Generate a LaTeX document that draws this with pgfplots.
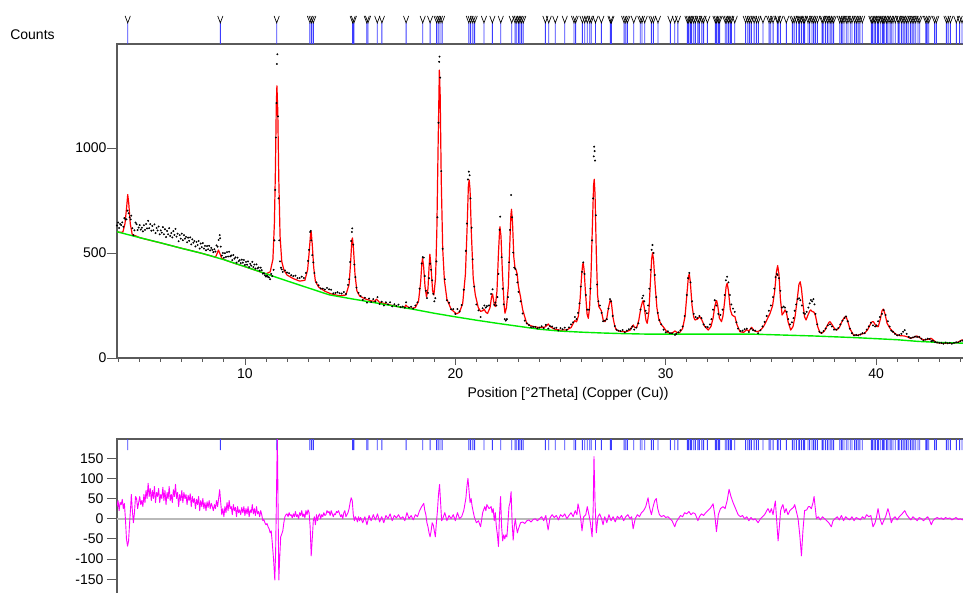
\documentclass[border=0pt]{standalone}
\usepackage{pgfplots}
\usepackage{pgfplotstable}
\pgfplotsset{compat=1.18}
\usepackage{fontspec}
\setmainfont{Liberation Sans}
\definecolor{axgray}{RGB}{90,90,90}
\definecolor{calcred}{RGB}{255,0,0}
\definecolor{bggreen}{RGB}{0,235,0}
\definecolor{diffmag}{RGB}{255,0,255}
\definecolor{refblue}{RGB}{60,60,255}
\pgfdeclareplotmark{vee}{%
  \pgfpathmoveto{\pgfpoint{-2.6pt}{7pt}}%
  \pgfpathlineto{\pgfpoint{0pt}{0pt}}%
  \pgfpathlineto{\pgfpoint{2.6pt}{7pt}}%
  \pgfusepathqstroke}
\pgfplotstableread[row sep=\\]{t h\\
4.43 1\\ 8.83 1\\ 11.51 1\\ 13.09 1\\ 13.17 1\\ 13.25 1\\ 15.12 1\\ 15.18 1\\ 15.79 1\\ 15.85 1\\ 16.29 1\\ 16.51 1\\ 17.66 1\\ 18.45 1\\ 18.80 1\\ 19.11 1\\ 19.19 1\\ 19.27 1\\ 19.37 1\\ 20.64 1\\ 20.73 1\\ 20.83 1\\ 20.92 1\\ 21.36 1\\ 21.76 1\\ 22.16 1\\ 22.68 1\\ 22.84 1\\ 22.92 1\\ 23.00 1\\ 23.07 1\\ 23.15 1\\ 23.23 1\\ 24.28 1\\ 24.44 1\\ 24.75 1\\ 25.20 1\\ 25.64 1\\ 25.72 1\\ 26.04 1\\ 26.15 1\\ 26.27 1\\ 26.39 1\\ 26.46 1\\ 26.66 1\\ 26.94 1\\ 27.37 1\\ 27.42 1\\ 28.02 1\\ 28.10 1\\ 28.18 1\\ 28.48 1\\ 28.79 1\\ 28.87 1\\ 29.00 1\\ 29.32 1\\ 29.41 1\\ 29.63 1\\ 30.22 1\\ 30.43 1\\ 30.58 1\\ 31.03 1\\ 31.09 1\\ 31.17 1\\ 31.23 1\\ 31.33 1\\ 31.41 1\\ 31.53 1\\ 31.60 1\\ 31.72 1\\ 31.80 1\\ 31.98 1\\ 32.36 1\\ 32.42 1\\ 32.50 1\\ 32.56 1\\ 32.83 1\\ 32.90 1\\ 32.98 1\\ 33.06 1\\ 33.12 1\\ 33.28 1\\ 33.80 1\\ 33.90 1\\ 33.99 1\\ 34.07 1\\ 34.20 1\\ 34.31 1\\ 34.40 1\\ 34.62 1\\ 34.91 1\\ 34.99 1\\ 35.10 1\\ 35.30 1\\ 35.34 1\\ 35.45 1\\ 35.73 1\\ 36.02 1\\ 36.10 1\\ 36.21 1\\ 36.32 1\\ 36.37 1\\ 36.45 1\\ 36.54 1\\ 36.60 1\\ 36.76 1\\ 36.84 1\\ 36.95 1\\ 37.03 1\\ 37.11 1\\ 37.21 1\\ 37.43 1\\ 37.48 1\\ 37.59 1\\ 37.68 1\\ 37.76 1\\ 37.84 1\\ 37.90 1\\ 37.98 1\\ 38.27 1\\ 38.35 1\\ 38.38 1\\ 38.47 1\\ 38.58 1\\ 38.66 1\\ 38.77 1\\ 38.85 1\\ 38.98 1\\ 39.06 1\\ 39.14 1\\ 39.23 1\\ 39.34 1\\ 39.77 1\\ 39.82 1\\ 39.90 1\\ 39.96 1\\ 40.06 1\\ 40.12 1\\ 40.22 1\\ 40.30 1\\ 40.34 1\\ 40.41 1\\ 40.49 1\\ 40.56 1\\ 40.66 1\\ 40.72 1\\ 40.80 1\\ 40.91 1\\ 41.04 1\\ 41.09 1\\ 41.20 1\\ 41.28 1\\ 41.36 1\\ 41.44 1\\ 41.52 1\\ 41.63 1\\ 41.71 1\\ 41.79 1\\ 41.88 1\\ 41.99 1\\ 42.07 1\\ 42.36 1\\ 42.42 1\\ 42.50 1\\ 42.78 1\\ 42.86 1\\ 43.34 1\\ 43.42 1\\ 43.53 1\\ 43.81 1\\ 43.97 1\\ 44.08 1\\
}\refl
\begin{document}
\begin{tikzpicture}
\useasboundingbox (0pt,0pt) rectangle (963pt,592pt);
\clip (0pt,0pt) rectangle (963pt,592pt);
\pgfplotsset{
  common/.style={
    scale only axis, anchor=south west, width=902pt,
    xmin=3.92, xmax=46.79,
    axis line style={axgray, line width=1.1pt},
    tick style={axgray, line width=0.8pt},
    tick align=outside,
    tick label style={font=\fontsize{14}{16}\selectfont, text=black},
  },
  reflbars/.style={ybar, bar width=0.9pt, bar shift=0pt, fill=refblue, draw=none},
}
% ---------- main pattern axis ----------
\begin{axis}[common,
  at={(117pt,234pt)}, height=314pt,
  ymin=0, ymax=1495,
  xtick={10,20,30,40}, xticklabels={10,20,30,40},
  minor xtick={4,5,...,46},
  ytick={0,500,1000}, yticklabels={0,500,1000},
  xtick pos=bottom, ytick pos=left,
  major tick length=7pt, minor tick length=3.5pt,
  ytick style={/pgfplots/major tick length=10pt},
  xlabel={Position [°2Theta] (Copper (Cu))},
  ylabel={Counts},
  every axis x label/.style={at={(axis description cs:0.5,0)}, anchor=center, yshift=-36pt, font=\fontsize{14}{16}\selectfont},
  every axis y label/.style={at={(axis description cs:0,1)}, anchor=center, xshift=-84.5pt, yshift=9pt, font=\fontsize{14}{16}\selectfont},
]
% observed
\addplot[only marks, mark=*, mark size=0.75pt, black] coordinates {
(3.92,631) (3.97,645) (4.02,619) (4.07,638) (4.12,633) (4.17,646) (4.22,625) (4.27,666) (4.32,660) (4.37,660) (4.42,702) (4.47,689) (4.52,670) (4.57,660) (4.6,678) (4.65,618) (4.7,585) (4.75,608) (4.8,645) (4.85,637) (4.9,609) (4.95,621) (5.0,633) (5.05,611) (5.1,620) (5.15,603) (5.2,632) (5.25,610) (5.3,638) (5.35,617) (5.4,653) (5.45,618) (5.5,637) (5.55,606) (5.6,629) (5.65,608) (5.7,636) (5.75,595) (5.8,619) (5.85,607) (5.9,626) (5.95,589) (6.0,608) (6.05,597) (6.1,623) (6.15,589) (6.2,613) (6.25,576) (6.3,605) (6.35,589) (6.4,618) (6.45,581) (6.5,595) (6.55,574) (6.6,604) (6.65,586) (6.7,615) (6.75,578) (6.8,592) (6.85,556) (6.9,585) (6.95,568) (7.0,592) (7.05,561) (7.1,585) (7.15,568) (7.2,577) (7.25,551) (7.3,573) (7.35,558) (7.4,574) (7.45,541) (7.5,565) (7.55,549) (7.6,557) (7.65,531) (7.7,553) (7.75,538) (7.8,557) (7.85,521) (7.9,545) (7.95,528) (8.0,547) (8.05,521) (8.1,534) (8.15,513) (8.2,533) (8.25,518) (8.3,534) (8.35,512) (8.4,524) (8.45,515) (8.5,504) (8.55,518) (8.6,507) (8.65,536) (8.7,530) (8.75,562) (8.8,585) (8.82,570) (8.85,530) (8.9,488) (8.95,500) (9.0,477) (9.05,499) (9.1,481) (9.15,504) (9.2,483) (9.25,506) (9.3,484) (9.35,488) (9.4,466) (9.45,490) (9.5,473) (9.55,479) (9.6,454) (9.65,478) (9.7,461) (9.75,466) (9.8,452) (9.85,468) (9.9,454) (9.95,467) (10.0,443) (10.05,458) (10.1,444) (10.15,460) (10.2,433) (10.25,448) (10.3,440) (10.35,458) (10.4,433) (10.45,445) (10.5,426) (10.55,446) (10.6,427) (10.65,431) (10.7,416) (10.75,430) (10.8,418) (10.85,402) (10.9,403) (10.95,394) (11.0,388) (11.05,392) (11.1,386) (11.15,383) (11.2,375) (11.25,400) (11.3,390) (11.36,420) (11.4,560) (11.44,800) (11.47,1050) (11.5,1214) (11.52,1400) (11.54,1446) (11.57,1150) (11.6,760) (11.63,560) (11.67,460) (11.71,430) (11.75,422) (11.8,410) (11.9,417) (12.0,407) (12.1,404) (12.2,394) (12.3,390) (12.4,392) (12.5,380) (12.6,381) (12.7,387) (12.8,381) (12.9,405) (13.0,462) (13.05,515) (13.1,600) (13.13,605) (13.15,560) (13.2,490) (13.25,455) (13.3,405) (13.4,360) (13.5,346) (13.6,331) (13.7,330) (13.8,326) (13.9,334) (14.0,327) (14.1,325) (14.2,308) (14.3,310) (14.4,313) (14.5,308) (14.6,307) (14.7,314) (14.8,305) (14.9,348) (14.95,375) (15.0,457) (15.05,557) (15.08,600) (15.1,617) (15.15,540) (15.2,445) (15.25,385) (15.3,335) (15.4,310) (15.5,295) (15.6,277) (15.7,287) (15.8,264) (15.9,283) (16.0,267) (16.1,280) (16.2,269) (16.3,290) (16.4,257) (16.5,268) (16.6,250) (16.7,265) (16.8,255) (16.9,265) (17.0,246) (17.1,256) (17.2,248) (17.3,254) (17.4,242) (17.5,245) (17.6,239) (17.66,265) (17.8,240) (17.9,244) (18.0,235) (18.1,250) (18.2,265) (18.3,330) (18.4,450) (18.45,480) (18.5,478) (18.55,390) (18.6,320) (18.65,285) (18.7,310) (18.75,380) (18.8,449) (18.85,420) (18.9,370) (18.95,305) (19.0,270) (19.05,285) (19.1,460) (19.15,670) (19.2,1120) (19.23,1410) (19.25,1435) (19.28,1335) (19.33,890) (19.4,520) (19.5,375) (19.6,275) (19.7,263) (19.8,232) (19.9,233) (20.0,210) (20.1,233) (20.2,222) (20.3,252) (20.4,325) (20.5,510) (20.55,640) (20.6,850) (20.64,887) (20.68,870) (20.72,760) (20.77,620) (20.82,470) (20.9,340) (21.0,255) (21.1,227) (21.2,195) (21.3,237) (21.38,250) (21.45,240) (21.5,247) (21.6,250) (21.7,305) (21.77,327) (21.85,253) (21.9,264) (21.95,250) (22.0,290) (22.05,400) (22.1,610) (22.13,673) (22.2,480) (22.25,330) (22.3,255) (22.35,185) (22.4,178) (22.45,185) (22.5,290) (22.55,455) (22.6,610) (22.65,776) (22.7,670) (22.75,502) (22.8,430) (22.85,424) (22.9,397) (22.95,360) (23.0,315) (23.1,270) (23.2,212) (23.3,178) (23.4,165) (23.5,157) (23.6,147) (23.7,148) (23.8,148) (23.9,141) (24.0,145) (24.1,151) (24.2,142) (24.3,158) (24.42,140) (24.5,152) (24.6,150) (24.7,141) (24.8,144) (24.9,131) (25.0,142) (25.1,137) (25.2,145) (25.3,134) (25.4,146) (25.5,160) (25.6,170) (25.68,195) (25.76,185) (25.83,215) (25.9,260) (25.96,340) (26.02,410) (26.08,455) (26.14,400) (26.2,300) (26.27,230) (26.35,230) (26.42,330) (26.5,560) (26.55,760) (26.58,960) (26.6,1006) (26.62,985) (26.64,940) (26.68,680) (26.74,350) (26.8,270) (26.87,250) (26.95,215) (27.02,175) (27.11,178) (27.2,185) (27.28,235) (27.35,280) (27.4,270) (27.48,200) (27.58,152) (27.66,135) (27.75,130) (27.85,128) (27.95,133) (28.05,122) (28.15,130) (28.25,137) (28.35,140) (28.42,150) (28.5,135) (28.6,145) (28.7,165) (28.8,230) (28.88,285) (28.93,297) (28.98,270) (29.04,225) (29.1,213) (29.16,250) (29.22,330) (29.28,420) (29.33,515) (29.37,538) (29.42,500) (29.48,395) (29.55,290) (29.62,215) (29.7,180) (29.79,160) (29.9,135) (30.0,122) (30.1,127) (30.2,118) (30.3,117) (30.44,110) (30.5,115) (30.6,122) (30.7,132) (30.8,150) (30.9,200) (31.0,300) (31.06,380) (31.12,405) (31.18,360) (31.25,270) (31.33,210) (31.42,195) (31.5,190) (31.6,200) (31.7,190) (31.8,160) (31.9,148) (32.0,147) (32.1,160) (32.17,185) (32.25,230) (32.33,275) (32.41,250) (32.5,210) (32.6,205) (32.7,230) (32.8,300) (32.86,370) (32.92,387) (32.98,360) (33.05,300) (33.12,255) (33.2,235) (33.28,220) (33.36,170) (33.44,140) (33.55,128) (33.65,130) (33.75,137) (33.85,140) (33.95,124) (34.05,140) (34.15,133) (34.25,130) (34.39,118) (34.5,132) (34.6,150) (34.7,172) (34.8,200) (34.9,225) (35.0,250) (35.1,290) (35.16,330) (35.22,385) (35.28,400) (35.32,395) (35.38,380) (35.45,320) (35.52,240) (35.6,245) (35.67,240) (35.75,220) (35.82,185) (35.9,160) (36.0,170) (36.07,190) (36.13,225) (36.2,255) (36.27,280) (36.34,284) (36.4,275) (36.47,250) (36.55,215) (36.62,210) (36.7,220) (36.78,240) (36.84,260) (36.9,276) (36.96,270) (37.02,280) (37.07,255) (37.12,210) (37.2,160) (37.3,125) (37.4,120) (37.5,128) (37.6,140) (37.7,155) (37.81,160) (37.9,150) (38.0,135) (38.1,135) (38.2,142) (38.3,160) (38.4,178) (38.5,190) (38.57,198) (38.65,175) (38.75,140) (38.85,118) (38.95,108) (39.05,110) (39.15,108) (39.25,112) (39.35,118) (39.45,118) (39.55,135) (39.65,150) (39.75,168) (39.85,155) (39.95,150) (40.02,155) (40.09,175) (40.18,195) (40.28,210) (40.36,228) (40.45,205) (40.56,175) (40.64,150) (40.72,130) (40.8,125) (40.9,115) (41.0,108) (41.1,110) (41.2,115) (41.28,125) (41.36,133) (41.45,115) (41.55,100) (41.65,95) (41.75,98) (41.85,102) (41.95,100) (42.05,100) (42.15,92) (42.25,84) (42.35,88) (42.45,92) (42.55,90) (42.62,80) (42.7,82) (42.8,76) (42.9,74) (43.0,72) (43.1,72) (43.2,68) (43.3,73) (43.4,70) (43.5,72) (43.6,68) (43.7,72) (43.8,75) (43.9,74) (44.0,80) (44.1,83) (44.2,86) (44.3,78) (44.5,78)};
% calculated
\addplot[calcred, line width=1.2pt, line join=round] coordinates {
(3.92,601) (4.1,598) (4.2,600) (4.3,640) (4.38,720) (4.43,778) (4.48,735) (4.55,640) (4.65,585) (4.8,582) (5.0,573) (5.5,560) (6.0,548) (6.5,535) (7.0,522) (7.5,510) (8.0,497) (8.4,486) (8.6,480) (8.68,498) (8.74,514) (8.8,500) (8.9,474) (9.1,465) (9.5,451) (10.0,435) (10.5,418) (10.8,408) (11.0,401) (11.2,410) (11.33,470) (11.4,640) (11.45,900) (11.49,1200) (11.52,1296) (11.56,1180) (11.61,850) (11.67,580) (11.75,460) (11.85,420) (12.0,395) (12.3,378) (12.6,366) (12.85,370) (12.98,420) (13.05,500) (13.12,590) (13.15,601) (13.2,540) (13.27,430) (13.35,365) (13.5,338) (13.8,318) (14.1,305) (14.5,296) (14.8,300) (14.95,350) (15.02,450) (15.08,560) (15.11,572) (15.16,520) (15.23,400) (15.32,320) (15.45,295) (15.7,282) (16.0,272) (16.15,270) (16.26,280) (16.38,266) (16.8,255) (17.2,246) (17.5,240) (17.6,244) (17.65,252) (17.72,244) (17.9,236) (18.1,240) (18.25,270) (18.35,360) (18.41,450) (18.44,475) (18.49,440) (18.56,340) (18.63,290) (18.7,330) (18.75,430) (18.79,494) (18.84,440) (18.92,320) (18.98,300) (19.06,380) (19.12,600) (19.18,1000) (19.24,1371) (19.28,1250) (19.33,850) (19.4,520) (19.48,370) (19.6,280) (19.8,232) (20.06,210) (20.2,218) (20.35,260) (20.48,400) (20.56,620) (20.62,820) (20.66,848) (20.7,800) (20.76,600) (20.85,380) (20.95,300) (21.09,240) (21.2,222) (21.3,225) (21.37,232) (21.45,218) (21.53,212) (21.65,240) (21.72,290) (21.77,305) (21.84,260) (21.9,245) (21.98,320) (22.05,500) (22.1,600) (22.12,625) (22.17,580) (22.24,400) (22.32,250) (22.36,213) (22.43,240) (22.52,340) (22.58,520) (22.64,680) (22.67,708) (22.72,640) (22.78,480) (22.84,425) (22.88,422) (22.94,400) (23.0,340) (23.1,290) (23.2,230) (23.39,165) (23.55,155) (23.7,150) (24.0,145) (24.25,147) (24.35,155) (24.42,162) (24.5,150) (24.7,138) (25.0,132) (25.3,134) (25.5,145) (25.6,165) (25.68,178) (25.76,172) (25.85,200) (25.93,280) (26.0,390) (26.05,445) (26.08,451) (26.12,420) (26.18,320) (26.26,210) (26.32,189) (26.38,240) (26.45,400) (26.52,650) (26.57,820) (26.6,851) (26.64,780) (26.7,500) (26.76,300) (26.82,245) (26.87,237) (26.94,225) (27.03,180) (27.11,173) (27.2,190) (27.28,240) (27.35,272) (27.38,276) (27.42,260) (27.5,190) (27.58,150) (27.66,133) (27.85,127) (28.1,125) (28.3,132) (28.4,150) (28.46,157) (28.52,145) (28.62,145) (28.72,180) (28.82,240) (28.9,270) (28.93,273) (28.98,240) (29.06,180) (29.12,165) (29.2,220) (29.27,360) (29.33,470) (29.37,501) (29.42,470) (29.5,340) (29.58,240) (29.67,185) (29.78,160) (29.88,149) (30.05,125) (30.2,117) (30.35,122) (30.44,129) (30.52,122) (30.65,120) (30.8,140) (30.92,200) (31.02,320) (31.08,390) (31.12,400) (31.17,360) (31.25,250) (31.33,195) (31.39,181) (31.5,185) (31.62,197) (31.72,180) (31.85,150) (32.02,133) (32.15,150) (32.25,190) (32.33,245) (32.39,270) (32.42,273) (32.47,250) (32.55,190) (32.65,173) (32.72,200) (32.8,270) (32.87,340) (32.92,356) (32.98,320) (33.07,230) (33.15,205) (33.22,200) (33.29,197) (33.38,160) (33.53,125) (33.7,122) (33.85,135) (33.95,128) (34.08,146) (34.2,130) (34.35,125) (34.5,132) (34.65,150) (34.8,180) (34.96,213) (35.08,250) (35.18,320) (35.26,410) (35.32,440) (35.38,400) (35.45,280) (35.53,205) (35.6,215) (35.67,229) (35.74,215) (35.82,170) (35.94,133) (36.05,150) (36.15,200) (36.25,280) (36.33,350) (36.39,363) (36.45,330) (36.53,250) (36.6,195) (36.67,181) (36.76,205) (36.85,225) (36.89,229) (36.95,222) (37.05,218) (37.12,200) (37.22,150) (37.32,122) (37.41,117) (37.55,130) (37.68,155) (37.76,170) (37.81,173) (37.9,160) (38.02,140) (38.13,133) (38.25,145) (38.38,175) (38.5,195) (38.57,197) (38.65,175) (38.75,140) (38.92,110) (39.1,108) (39.31,114) (39.45,118) (39.6,135) (39.72,160) (39.8,172) (39.87,173) (39.95,160) (40.03,150) (40.1,149) (40.2,185) (40.28,225) (40.34,233) (40.42,210) (40.52,165) (40.66,141) (40.8,125) (40.98,110) (41.15,106) (41.34,105) (41.5,100) (41.61,94) (41.78,98) (41.93,105) (42.05,98) (42.24,86) (42.45,88) (42.61,94) (42.72,85) (42.88,73) (43.2,70) (43.51,70) (43.8,72) (43.95,78) (44.07,86) (44.2,80) (44.6,78)};
% background (drawn on top)
\addplot[bggreen, line width=1.4pt] coordinates {
(3.92,601) (5,573) (6,548) (7,522) (8,497) (9,468) (10,435) (11,401) (12,367) (13,334) (14,301) (15,283) (16,266) (17,249) (18,232) (19,213) (20,196) (21,180) (22,165) (23,151) (24,137) (25,128) (26,123) (27,119) (28,116) (29,114) (30,114) (32,114) (34,114) (35,111) (36,108) (37,105) (38,101) (39,97) (40,92) (41,87) (42,79) (43,74) (44,71) (44.6,70)};
\end{axis}
% ---------- top reflection strip ----------
\begin{axis}[common, at={(117pt,548pt)}, height=27pt, ymin=0, ymax=1.282, hide axis, clip=false]
\addplot[reflbars] table[x=t, y=h] {\refl};
\addplot[only marks, mark=vee, mark options={black, line width=0.65pt}] table[x=t, y=h] {\refl};
\end{axis}
% ---------- difference axis ----------
\begin{axis}[common,
  at={(117pt,-7.4pt)}, height=160.4pt,
  ymin=-200, ymax=197.6,
  xtick=\empty,
  ytick={-150,-100,-50,0,50,100,150},
  yticklabels={-150,-100,-50,0,50,100,150},
  ytick pos=left, major tick length=10pt,
]
\addplot[gray!55, line width=1.6pt] coordinates {(3.92,0) (46.79,0)};
\addplot[diffmag, line width=0.9pt, line join=round] coordinates {
(3.92,30) (3.97,45) (4.02,20) (4.07,40) (4.12,35) (4.17,48) (4.22,25) (4.27,38) (4.32,0) (4.37,-50) (4.42,-68) (4.47,-55) (4.52,-10) (4.57,30) (4.6,60) (4.65,20) (4.7,-10) (4.75,15) (4.8,55) (4.85,50) (4.9,25) (4.95,40) (5.0,55) (5.05,35) (5.1,45) (5.15,30) (5.2,60) (5.25,40) (5.3,70) (5.35,50) (5.4,88) (5.45,55) (5.5,75) (5.55,45) (5.6,70) (5.65,50) (5.7,80) (5.75,40) (5.8,65) (5.85,55) (5.9,75) (5.95,40) (6.0,60) (6.05,50) (6.1,78) (6.15,45) (6.2,70) (6.25,35) (6.3,65) (6.35,50) (6.4,80) (6.45,45) (6.5,60) (6.55,40) (6.6,72) (6.65,55) (6.7,85) (6.75,50) (6.8,65) (6.85,30) (6.9,60) (6.95,45) (7.0,70) (7.05,40) (7.1,65) (7.15,50) (7.2,60) (7.25,35) (7.3,58) (7.35,45) (7.4,62) (7.45,30) (7.5,55) (7.55,40) (7.6,50) (7.65,25) (7.7,48) (7.75,35) (7.8,55) (7.85,20) (7.9,45) (7.95,30) (8.0,50) (8.05,25) (8.1,40) (8.15,20) (8.2,42) (8.25,28) (8.3,45) (8.35,25) (8.4,38) (8.45,30) (8.5,20) (8.55,35) (8.6,25) (8.65,45) (8.7,30) (8.75,50) (8.8,72) (8.85,40) (8.9,10) (8.95,25) (9.0,5) (9.05,30) (9.1,15) (9.15,40) (9.2,20) (9.25,45) (9.3,25) (9.35,30) (9.4,10) (9.45,35) (9.5,20) (9.55,28) (9.6,5) (9.65,30) (9.7,15) (9.75,22) (9.8,10) (9.85,28) (9.9,15) (9.95,30) (10.0,8) (10.05,25) (10.1,12) (10.15,30) (10.2,5) (10.25,22) (10.3,15) (10.35,35) (10.4,12) (10.45,25) (10.5,8) (10.55,30) (10.6,12) (10.65,18) (10.7,5) (10.75,20) (10.8,10) (10.85,-5) (10.9,-2) (10.95,-10) (11.0,-15) (11.05,-12) (11.1,-20) (11.15,-25) (11.2,-35) (11.25,-30) (11.3,-60) (11.36,-100) (11.42,-152) (11.46,-80) (11.5,60) (11.54,210) (11.57,60) (11.61,-152) (11.65,-100) (11.7,-45) (11.75,-38) (11.8,-30) (11.85,-10) (11.9,5) (11.95,10) (12.0,12) (12.05,5) (12.1,15) (12.15,8) (12.2,10) (12.25,2) (12.3,12) (12.35,5) (12.4,18) (12.45,5) (12.5,10) (12.55,0) (12.6,15) (12.65,8) (12.7,20) (12.75,5) (12.8,12) (12.85,2) (12.9,20) (12.95,10) (13.0,22) (13.05,15) (13.1,-20) (13.15,-92) (13.2,-50) (13.25,-5) (13.3,5) (13.35,-15) (13.4,10) (13.45,-5) (13.5,8) (13.55,12) (13.6,0) (13.65,10) (13.7,5) (13.75,15) (13.8,8) (13.85,10) (13.9,20) (13.95,15) (14.0,18) (14.05,8) (14.1,20) (14.15,12) (14.2,5) (14.25,12) (14.3,10) (14.35,18) (14.4,15) (14.45,20) (14.5,12) (14.55,5) (14.6,10) (14.65,0) (14.7,15) (14.75,20) (14.8,5) (14.85,10) (14.9,15) (14.95,25) (15.0,40) (15.05,52) (15.1,45) (15.15,10) (15.2,-5) (15.25,5) (15.3,0) (15.35,-8) (15.4,5) (15.45,-5) (15.5,3) (15.6,-10) (15.7,5) (15.8,-15) (15.9,8) (16.0,-5) (16.1,10) (16.2,-3) (16.3,12) (16.4,-8) (16.5,5) (16.6,-10) (16.7,8) (16.8,0) (16.9,12) (17.0,-5) (17.1,8) (17.2,2) (17.3,10) (17.4,0) (17.5,5) (17.6,-5) (17.7,15) (17.8,0) (17.9,8) (18.0,-3) (18.1,10) (18.2,5) (18.3,20) (18.4,30) (18.5,38) (18.55,20) (18.6,10) (18.65,-10) (18.7,-20) (18.75,-35) (18.8,-45) (18.85,-30) (18.9,-10) (18.95,-15) (19.0,-30) (19.05,-45) (19.1,-10) (19.15,20) (19.2,60) (19.25,85) (19.3,40) (19.35,-5) (19.4,0) (19.5,15) (19.6,-5) (19.7,8) (19.8,0) (19.9,10) (20.0,-5) (20.1,15) (20.2,0) (20.3,5) (20.4,20) (20.5,50) (20.55,80) (20.6,100) (20.65,70) (20.7,40) (20.75,50) (20.8,30) (20.9,5) (21.0,-10) (21.1,-5) (21.2,-20) (21.3,15) (21.4,30) (21.45,20) (21.5,35) (21.6,25) (21.7,30) (21.75,15) (21.8,25) (21.85,-5) (21.9,15) (21.95,-20) (22.0,-40) (22.05,-69) (22.1,10) (22.15,55) (22.2,-20) (22.25,-55) (22.3,-40) (22.35,-50) (22.4,-40) (22.45,-45) (22.5,-10) (22.55,30) (22.6,40) (22.65,67) (22.7,-10) (22.75,-53) (22.8,-20) (22.85,0) (22.9,-20) (22.95,-35) (23.0,-25) (23.1,-10) (23.2,-8) (23.3,-12) (23.4,-5) (23.5,-3) (23.6,-8) (23.7,-2) (23.8,0) (23.9,-5) (24.0,0) (24.1,5) (24.2,-5) (24.3,8) (24.41,-28) (24.5,2) (24.6,10) (24.7,3) (24.8,8) (24.9,-3) (25.0,10) (25.1,5) (25.2,12) (25.3,0) (25.4,8) (25.5,15) (25.6,5) (25.7,20) (25.78,10) (25.83,37) (25.9,20) (25.96,0) (26.02,-30) (26.1,5) (26.2,10) (26.27,30) (26.35,10) (26.42,-10) (26.5,-45) (26.55,20) (26.59,154) (26.64,40) (26.7,-35) (26.78,5) (26.86,12) (26.95,0) (27.02,-15) (27.1,5) (27.2,-10) (27.3,10) (27.4,-5) (27.5,5) (27.6,-8) (27.7,6) (27.8,0) (27.9,8) (28.0,-5) (28.1,5) (28.2,10) (28.3,0) (28.38,5) (28.45,-25) (28.55,0) (28.65,10) (28.75,5) (28.85,15) (28.95,20) (29.05,30) (29.1,40) (29.16,52) (29.22,30) (29.32,10) (29.4,30) (29.48,45) (29.55,50) (29.62,25) (29.7,10) (29.79,5) (29.9,8) (30.0,3) (30.1,5) (30.2,0) (30.3,-5) (30.43,-20) (30.5,-8) (30.6,0) (30.7,8) (30.8,5) (30.9,15) (31.0,12) (31.1,18) (31.2,10) (31.3,15) (31.4,12) (31.53,-5) (31.6,5) (31.7,12) (31.8,8) (31.9,15) (32.0,20) (32.1,25) (32.17,30) (32.25,37) (32.33,10) (32.41,-32) (32.5,10) (32.6,25) (32.72,30) (32.82,25) (32.92,45) (33.01,73) (33.1,55) (33.2,40) (33.28,30) (33.36,20) (33.44,10) (33.55,5) (33.65,8) (33.75,0) (33.85,5) (33.95,-5) (34.05,3) (34.15,-3) (34.25,0) (34.39,-10) (34.5,0) (34.6,5) (34.7,10) (34.8,20) (34.86,25) (34.95,15) (35.02,25) (35.1,10) (35.16,30) (35.21,44) (35.28,-10) (35.34,-55) (35.4,-20) (35.46,20) (35.52,30) (35.57,35) (35.65,15) (35.72,25) (35.81,10) (35.9,20) (36.0,25) (36.07,28) (36.13,35) (36.2,20) (36.29,0) (36.37,-40) (36.45,-92) (36.52,-30) (36.6,20) (36.7,22) (36.78,30) (36.84,30) (36.92,25) (37.0,40) (37.05,55) (37.12,20) (37.16,0) (37.25,5) (37.35,-3) (37.45,5) (37.55,0) (37.65,-5) (37.75,-10) (37.87,-20) (37.95,-5) (38.05,0) (38.15,5) (38.25,-3) (38.35,8) (38.45,-5) (38.55,5) (38.65,0) (38.75,-3) (38.85,5) (38.95,-5) (39.05,3) (39.15,0) (39.25,-3) (39.35,5) (39.45,0) (39.55,10) (39.65,5) (39.75,8) (39.85,-20) (39.95,-10) (40.02,5) (40.09,25) (40.18,0) (40.28,-15) (40.36,-5) (40.45,5) (40.56,25) (40.64,10) (40.72,-10) (40.8,0) (40.9,5) (41.0,-3) (41.1,5) (41.2,10) (41.28,15) (41.36,20) (41.45,10) (41.55,3) (41.65,-3) (41.75,5) (41.85,0) (41.95,-5) (42.05,3) (42.15,0) (42.25,-5) (42.35,0) (42.45,5) (42.55,-5) (42.62,-15) (42.7,-5) (42.8,0) (42.9,3) (43.0,0) (43.1,2) (43.2,-2) (43.3,3) (43.4,0) (43.5,2) (43.6,-3) (43.7,0) (43.8,3) (43.9,-2) (44.0,0) (44.1,-3) (44.2,5) (44.3,-2) (44.5,0)};
\end{axis}
% ---------- bottom reflection strip ----------
\begin{axis}[common, at={(117pt,142pt)}, height=11pt, ymin=0, ymax=1, hide axis, clip=false]
\addplot[reflbars] table[x=t, y=h] {\refl};
\end{axis}
\end{tikzpicture}
\end{document}
